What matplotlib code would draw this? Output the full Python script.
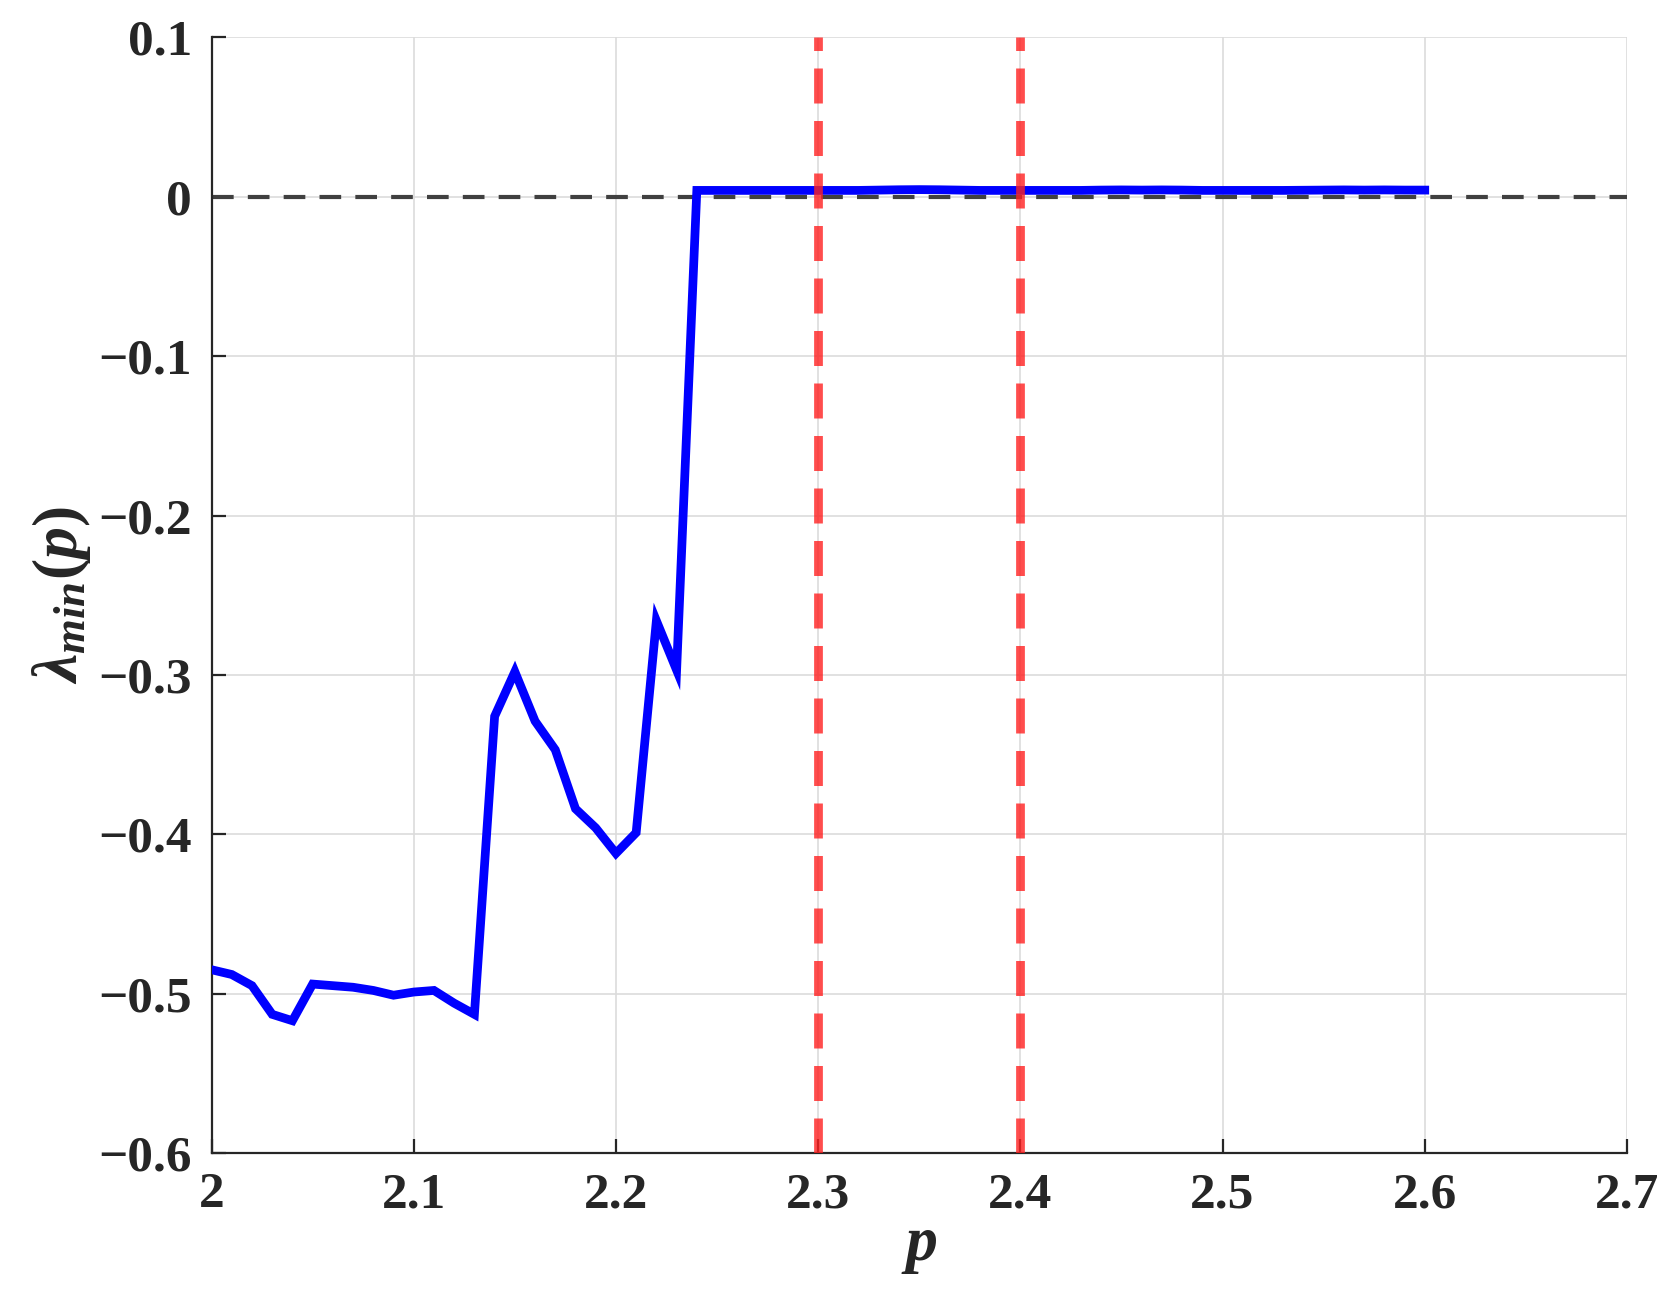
import matplotlib.pyplot as plt

plt.rcParams['font.family'] = ['Liberation Serif', 'DejaVu Serif']
plt.rcParams['font.weight'] = 'bold'
plt.rcParams['mathtext.fontset'] = 'custom'
plt.rcParams['mathtext.rm'] = 'Liberation Serif:bold'
plt.rcParams['mathtext.it'] = 'Liberation Serif:italic:bold'
plt.rcParams['mathtext.bf'] = 'Liberation Serif:bold'

# Datos
p = [2.00, 2.01, 2.02, 2.03, 2.04, 2.05, 2.06, 2.07, 2.08, 2.09,
     2.10, 2.11, 2.12, 2.13, 2.14, 2.15, 2.16, 2.17, 2.18, 2.19,
     2.20, 2.21, 2.22, 2.23, 2.24, 2.25, 2.26, 2.27, 2.28, 2.29,
     2.30, 2.31, 2.32, 2.33, 2.34, 2.35, 2.36, 2.37, 2.38, 2.39,
     2.40, 2.41, 2.42, 2.43, 2.44, 2.45, 2.46, 2.47, 2.48, 2.49,
     2.50, 2.51, 2.52, 2.53, 2.54, 2.55, 2.56, 2.57, 2.58, 2.59, 2.60]
lam_min = [-0.485, -0.488, -0.495, -0.513, -0.517, -0.494, -0.495, -0.496, -0.498, -0.501,
           -0.499, -0.498, -0.506, -0.513, -0.326, -0.298, -0.329, -0.347, -0.384, -0.396,
           -0.412, -0.399, -0.266, -0.297, 0.004, 0.004, 0.004, 0.004, 0.004, 0.004,
           0.004, 0.004, 0.004, 0.0042, 0.0044, 0.0045, 0.0044, 0.0042, 0.004, 0.004,
           0.004, 0.004, 0.004, 0.004, 0.0042, 0.0043, 0.0042, 0.0043, 0.0042, 0.004,
           0.004, 0.004, 0.004, 0.004, 0.0041, 0.0042, 0.0043, 0.0042, 0.0043, 0.0042, 0.0042]
p_marcas = [2.3, 2.4]
xticks = [2, 2.1, 2.2, 2.3, 2.4, 2.5, 2.6, 2.7]
yticks = [-0.6, -0.5, -0.4, -0.3, -0.2, -0.1, 0, 0.1]

fig = plt.figure(figsize=(16.75, 13.08), dpi=100)
ax = fig.add_axes([0.1263, 0.1185, 0.845, 0.8529])

ax.plot(p, lam_min, color='#0000ff', lw=6.3, solid_joinstyle='miter', zorder=3)
ax.axhline(0, color='#404040', lw=3, dashes=(5.2, 3.4), zorder=2)
for xv in p_marcas:
    ax.axvline(xv, color='#ff2020', alpha=0.8, lw=6.3, dashes=(4.0, 2.0), zorder=4)

ax.set_xlim(2, 2.7)
ax.set_ylim(-0.6, 0.1)
ax.set_xticks(xticks)
ax.set_yticks(yticks)
ax.set_xticklabels(['2', '2.1', '2.2', '2.3', '2.4', '2.5', '2.6', '2.7'])
ax.set_yticklabels(['\u22120.6', '\u22120.5', '\u22120.4', '\u22120.3', '\u22120.2', '\u22120.1', '0', '0.1'])
ax.grid(True, color='#dcdcdc', lw=1.2)
ax.set_axisbelow(True)

for s in ['top', 'right']:
    ax.spines[s].set_visible(False)
for s in ['left', 'bottom']:
    ax.spines[s].set_color('#262626')
    ax.spines[s].set_linewidth(1.6)
ax.tick_params(direction='in', length=10, width=1.6, colors='#262626',
               labelsize=37, pad=14)
for lab in ax.get_xticklabels() + ax.get_yticklabels():
    lab.set_fontweight('bold')
    lab.set_color('#262626')

ax.set_xlabel('$p$', fontsize=46, color='#262626', labelpad=0)
ax.set_ylabel(r'$\lambda_{min}(p)$', fontsize=46, color='#262626', labelpad=4)

plt.savefig('out.png', dpi=100)
